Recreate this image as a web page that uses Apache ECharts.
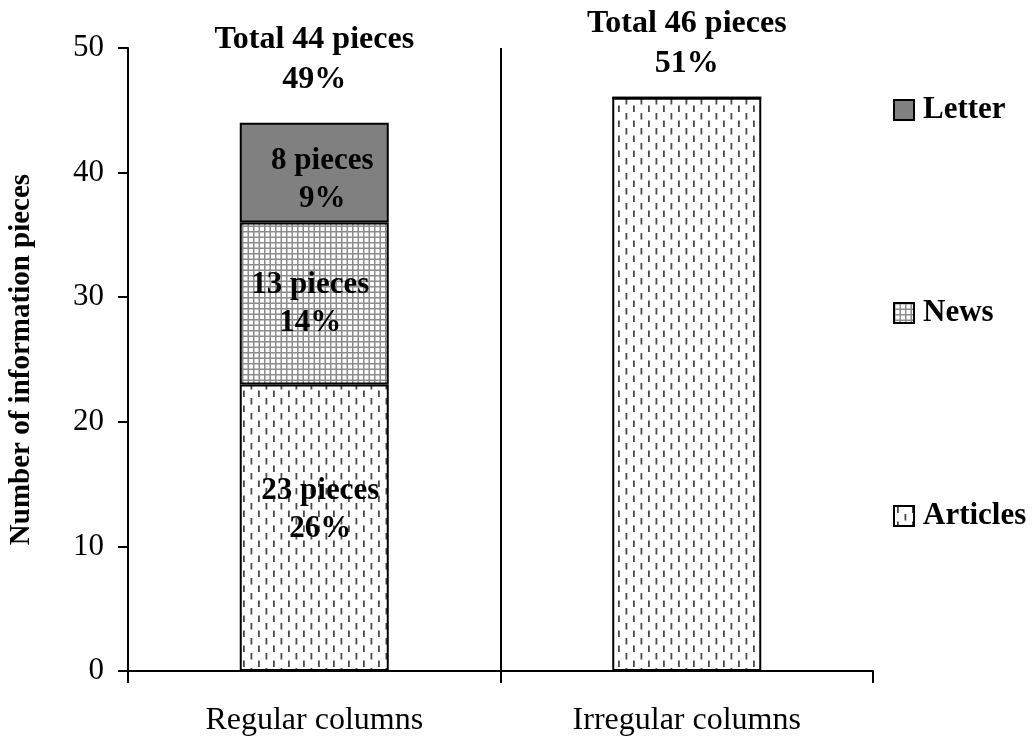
<!DOCTYPE html>
<html>
<head>
<meta charset="utf-8">
<script src="https://cdn.jsdelivr.net/npm/echarts@6/dist/echarts.min.js"></script>
<style>
html,body{margin:0;padding:0;background:#fff;}
#chart{width:1036px;height:737px;}
</style>
</head>
<body>
<div id="chart"></div>
<script>
// ---- data ----
var categories = ['Regular columns', 'Irregular columns'];
var articles = [23, 46];
var news = [13, 0];
var letter = [8, 0];
var articlesPct = ['26%', ''];
var newsPct = ['14%', ''];
var letterPct = ['9%', ''];
var totalPieces = [44, 46];
var totalPct = ['49%', '51%'];
var yTicks = [0, 10, 20, 30, 40, 50];
var yTitle = 'Number of information pieces';

// ---- patterns ----
function makeDashPattern() {
  var c = document.createElement('canvas');
  c.width = 15; c.height = 15;
  var g = c.getContext('2d');
  g.fillStyle = '#ffffff'; g.fillRect(0, 0, 15, 15);
  g.fillStyle = '#4a4a4a';
  g.fillRect(3, 0.5, 1.8, 6.5);
  g.fillRect(10.5, 8, 1.8, 6.5);
  return c;
}
function makeGridPattern() {
  var c = document.createElement('canvas');
  c.width = 11; c.height = 11;
  var g = c.getContext('2d');
  g.fillStyle = '#ffffff'; g.fillRect(0, 0, 11, 11);
  g.fillStyle = '#8c8c8c';
  g.fillRect(0, 0, 11, 1.5);
  g.fillRect(0, 5.5, 11, 1.5);
  g.fillRect(0, 0, 1.5, 11);
  g.fillRect(5.5, 0, 1.5, 11);
  return c;
}
var dashPat = { image: makeDashPattern(), repeat: 'repeat' };
var gridPat = { image: makeGridPattern(), repeat: 'repeat' };

var FONT = "'Liberation Serif', 'Times New Roman', serif";

function segLabel(pctArr, offset) {
  return {
    show: true,
    position: 'inside',
    offset: offset,
    fontFamily: FONT,
    fontSize: 31,
    fontWeight: 'bold',
    color: '#000',
    lineHeight: 38,
    formatter: function (p) {
      if (!p.value || !pctArr[p.dataIndex]) return '';
      return p.value + ' pieces\n' + pctArr[p.dataIndex];
    }
  };
}

// label distances above each column's top (style only)
var totalLabelDistance = [23, 14];
var totalData = totalPieces.map(function (t, i) {
  return { value: 0, label: { distance: totalLabelDistance[i] } };
});

var chart = echarts.init(document.getElementById('chart'), null, { renderer: 'canvas' });
var option = {
  animation: false,
  backgroundColor: '#fff',
  grid: { left: 128, right: 163, top: 48, bottom: 66, containLabel: false, outerBoundsMode: 'none' },
  legend: {
    orient: 'vertical',
    left: 893,
    top: 94,
    padding: 0,
    itemGap: 171,
    itemWidth: 20,
    itemHeight: 20,
    icon: 'rect',
    data: ['Letter', 'News', 'Articles'],
    textStyle: { fontFamily: FONT, fontSize: 31, fontWeight: 'bold', color: '#000', lineHeight: 32, padding: [0, 0, 0, 4] }
  },
  xAxis: [{
    type: 'category',
    data: categories,
    boundaryGap: true,
    axisLine: { lineStyle: { color: '#000', width: 2 } },
    axisTick: { show: true, length: 12, lineStyle: { color: '#000', width: 2 } },
    axisLabel: { fontFamily: FONT, fontSize: 32, color: '#000', margin: 34 },
    splitLine: { show: false }
  }, {
    type: 'value',
    min: 0, max: 2,
    show: false
  }],
  yAxis: {
    type: 'value',
    min: 0, max: 50, interval: 10,
    name: yTitle,
    nameLocation: 'middle',
    nameGap: 92,
    nameTextStyle: { fontFamily: FONT, fontSize: 29, fontWeight: 'bold', color: '#000' },
    axisLine: { show: true, lineStyle: { color: '#000', width: 2 } },
    axisTick: { show: true, length: 10, lineStyle: { color: '#000', width: 2 } },
    axisLabel: {
      fontFamily: FONT, fontSize: 31, color: '#000', margin: 24,
      formatter: function (v) { return yTicks.indexOf(v) >= 0 ? String(v) : ''; }
    },
    splitLine: { show: false }
  },
  series: [
    {
      name: 'Articles', type: 'bar', stack: 'a', barWidth: '40%',
      data: articles,
      itemStyle: { color: dashPat, borderColor: '#000', borderWidth: 2 },
      label: segLabel(articlesPct, [6, -18])
    },
    {
      name: 'News', type: 'bar', stack: 'a', barWidth: '40%',
      data: news,
      itemStyle: { color: gridPat, borderColor: '#000', borderWidth: 2 },
      label: segLabel(newsPct, [-4, 1])
    },
    {
      name: 'Letter', type: 'bar', stack: 'a', barWidth: '40%',
      data: letter,
      itemStyle: { color: '#808080', borderColor: '#000', borderWidth: 2 },
      label: segLabel(letterPct, [8, 7])
    },
    {
      name: 'Total', type: 'bar', stack: 'a', barWidth: '40%',
      data: totalData,
      itemStyle: { color: 'rgba(0,0,0,0)', borderWidth: 0 },
      label: {
        show: true, position: 'top',
        fontFamily: FONT, fontSize: 32, fontWeight: 'bold', color: '#000', lineHeight: 40,
        formatter: function (p) {
          return 'Total ' + totalPieces[p.dataIndex] + ' pieces\n' + totalPct[p.dataIndex];
        }
      }
    },
    {
      name: 'divider', type: 'line', xAxisIndex: 1, data: [],
      markLine: {
        silent: true, symbol: 'none',
        label: { show: false },
        lineStyle: { color: '#000', width: 2, type: 'solid' },
        data: [{ xAxis: 1 }]
      }
    }
  ]
};
chart.setOption(option);
</script>
</body>
</html>
